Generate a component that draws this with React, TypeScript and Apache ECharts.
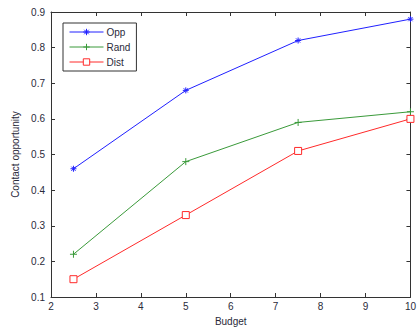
import React, { useEffect, useRef } from "react";
import * as echarts from "echarts";

const budgets = [2.5, 5, 7.5, 10];
const oppValues = [0.46, 0.68, 0.82, 0.88];
const randValues = [0.22, 0.48, 0.59, 0.62];
const distValues = [0.15, 0.33, 0.51, 0.6];
const seriesNames = ["Opp", "Rand", "Dist"];

const PLUS = "path://M0,5L10,5M5,0L5,10";
const STAR = "path://M0,5L10,5M5,0L5,10M1.5,1.5L8.5,8.5M8.5,1.5L1.5,8.5";
const SQUARE = "path://M0,0L10,0L10,10L0,10Z";

export default function App() {
  const ref = useRef<HTMLDivElement>(null);
  useEffect(() => {
    const chart = echarts.init(ref.current!, null, { renderer: "svg" });
    const font = "Liberation Sans, Arial, sans-serif";
    const txt = "#2a2a3a";
    const mk = (name: string, vals: number[], color: string, symbol: string, size: number, fill: string) => ({
      name,
      type: "line",
      data: budgets.map((b, i) => [b, vals[i]]),
      symbol,
      symbolSize: size,
      lineStyle: { color, width: 1 },
      itemStyle: { color: fill, borderColor: color, borderWidth: 1 },
    });
    const baseAxis = {
      axisLine: { show: true, lineStyle: { color: "#333", width: 1 } },
      axisTick: { show: true, inside: true, length: 4, lineStyle: { color: "#333" } },
      splitLine: { show: false },
    };
    chart.setOption({
      animation: false,
      grid: { left: 51, right: 2, top: 12, bottom: 31, containLabel: false },
      xAxis: [
        {
          ...baseAxis,
          type: "value",
          min: 2,
          max: 10,
          interval: 1,
          position: "bottom",
          name: "Budget",
          nameLocation: "middle",
          nameGap: 19,
          nameTextStyle: { color: txt, fontSize: 10, fontFamily: font },
          axisLabel: { color: txt, fontSize: 10, fontFamily: font, margin: 4 },
        },
        {
          ...baseAxis,
          type: "value",
          min: 2,
          max: 10,
          interval: 1,
          position: "top",
          axisLabel: { show: false },
        },
      ],
      yAxis: [
        {
          ...baseAxis,
          type: "value",
          min: 0.1,
          max: 0.9,
          interval: 0.1,
          position: "left",
          name: "Contact opportunity",
          nameLocation: "middle",
          nameGap: 28,
          nameTextStyle: { color: txt, fontSize: 10, fontFamily: font },
          axisLabel: { color: txt, fontSize: 10, fontFamily: font, margin: 6, formatter: (v: number) => v.toFixed(1) },
        },
        {
          ...baseAxis,
          type: "value",
          min: 0.1,
          max: 0.9,
          interval: 0.1,
          position: "right",
          axisLabel: { show: false },
        },
      ],
      legend: {
        data: seriesNames,
        orient: "vertical",
        left: 63,
        top: 23,
        width: 76,
        padding: [4, 6, 4, 6],
        itemGap: 5,
        itemWidth: 34,
        itemHeight: 8,
        lineStyle: { width: 1 },
        itemStyle: { borderWidth: 1 },
        backgroundColor: "#fff",
        borderColor: "#333",
        borderWidth: 1,
        borderRadius: 0,
        textStyle: { color: txt, fontSize: 10, fontFamily: font, padding: [0, 0, 0, -2] },
      },
      series: [
        mk(seriesNames[0], oppValues, "#2020ff", STAR, 6, "#2020ff"),
        mk(seriesNames[1], randValues, "#3a9a3a", PLUS, 7, "#3a9a3a"),
        mk(seriesNames[2], distValues, "#ff2a2a", SQUARE, 7, "#ffffff"),
      ],
    });
    return () => chart.dispose();
  }, []);
  return <div ref={ref} style={{ position: "absolute", left: 0, top: 0, width: 419, height: 331 }} />;
}
